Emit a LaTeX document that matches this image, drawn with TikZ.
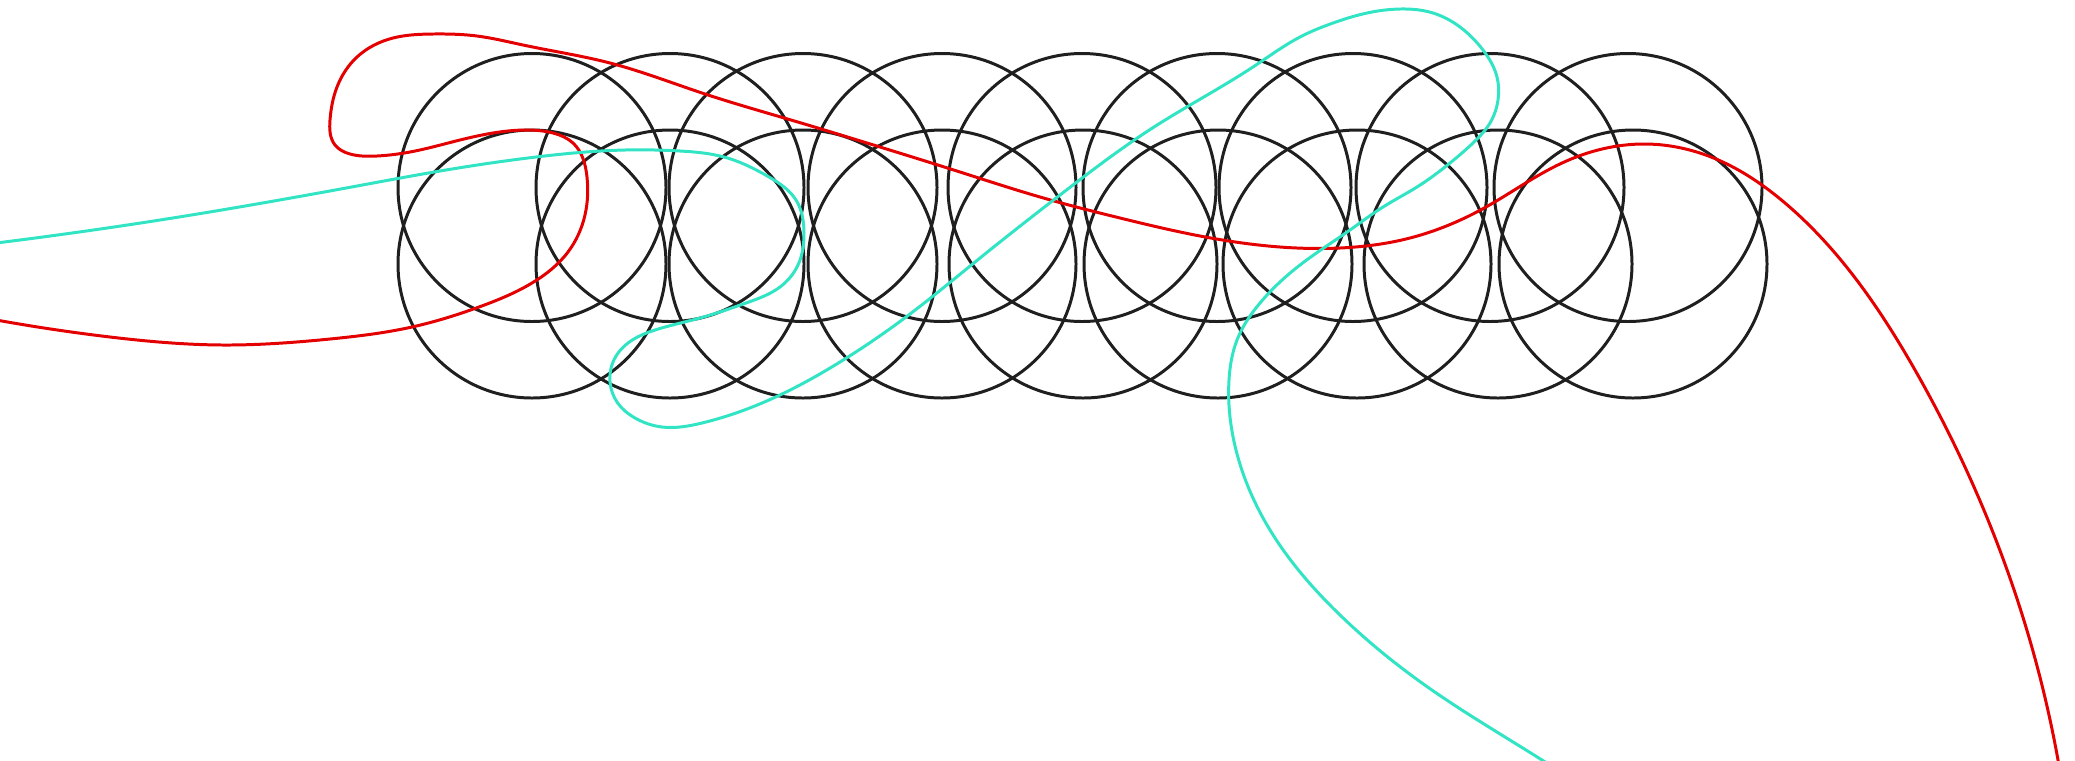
\documentclass[tikz,border=0pt]{standalone}
\usetikzlibrary{hobby}
\begin{document}
\begin{tikzpicture}[x=0.01cm,y=-0.01cm,
  ring/.style={draw=black!88,line width=0.85pt},
  redline/.style={draw={rgb,255:red,228;green,0;blue,0},line width=0.85pt,line cap=round},
  cyanline/.style={draw={rgb,255:red,48;green,228;blue,196},line width=0.85pt,line cap=round}]
\useasboundingbox (0,0) rectangle (2075,760);
\clip (0,0) rectangle (2075,760);
% top row
\foreach \cx in {532,670,803,942,1082,1217,1353,1490,1628}
  \draw[ring] (\cx,187.5) circle[radius=134];
% bottom row
\foreach \cx in {532,670,803,942,1083,1218,1357,1498,1633}
  \draw[ring] (\cx,264) circle[radius=134];
% red curve
\draw[redline,use Hobby shortcut] (-20,317) .. (110,337) .. (223,345) .. (330,339) .. (412,327)
 .. (479,307) .. (532,283) .. (568,252) .. (585,215) .. (587,177) .. (573,143) .. (553,133)
 .. (527,130) .. (493,133) .. (460,140) .. (410,152) .. (377,156) .. (350,154) .. (335,145)
 .. (330,120) .. (337,87) .. (357,57) .. (393,38) .. (433,34) .. (477,36) .. (523,45)
 .. (610,63) .. (702,93) .. (791,120) .. (880,147) .. (960,172) .. (1040,197) .. (1120,218)
 .. (1200,236) .. (1280,247) .. (1340,248) .. (1410,238) .. (1486,207) .. (1562,163)
 .. (1646,144) .. (1716,159) .. (1785,203) .. (1915,370) .. (2058,760) .. (2063,790);
% cyan curve
\draw[cyanline,use Hobby shortcut] (-20,245) .. (179,217) .. (357,186) .. (446,170) .. (536,157)
 .. (625,150) .. (680,151) .. (724,157) .. (769,177) .. (796,200) .. (804,233) .. (798,265)
 .. (780,287) .. (746,303) .. (700,318) .. (655,330) .. (628,343) .. (613,362) .. (610,382)
 .. (617,402) .. (635,418) .. (662,427) .. (702,423) .. (769,400) .. (840,362) .. (910,314)
 .. (980,258) .. (1060,195) .. (1154,127) .. (1256,65) .. (1300,37) .. (1333,23) .. (1367,13)
 .. (1400,9) .. (1433,13) .. (1460,27) .. (1483,50) .. (1497,77) .. (1498,100) .. (1490,123)
 .. (1473,143) .. (1450,163) .. (1417,187) .. (1383,207) .. (1350,230) .. (1300,265)
 .. (1260,303) .. (1237,340) .. (1229,380) .. (1236,450) .. (1270,530) .. (1340,615)
 .. (1429,688) .. (1542,760) .. (1570,778);
\end{tikzpicture}
\end{document}
